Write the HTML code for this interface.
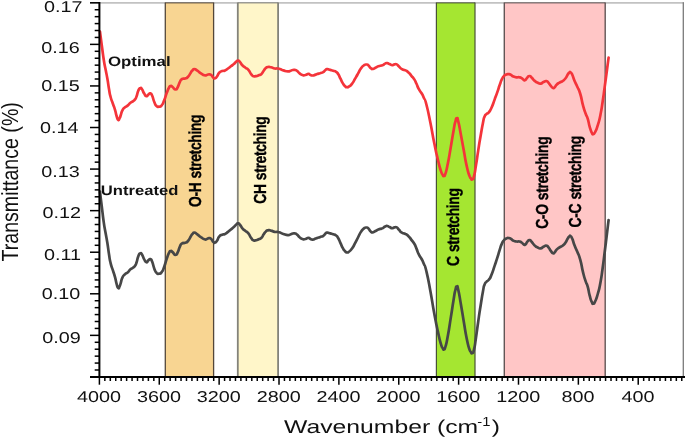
<!DOCTYPE html>
<html><head><meta charset="utf-8"><title>FTIR spectra</title>
<style>html,body{margin:0;padding:0;background:#fff}body{width:685px;height:439px;overflow:hidden}</style></head>
<body>
<svg width="685" height="439" viewBox="0 0 685 439" style="display:block;filter:blur(0.3px);text-rendering:geometricPrecision;font-family:'Liberation Sans',sans-serif">
<rect width="685" height="439" fill="#fff"/>
<line x1="90" y1="2.9" x2="684" y2="2.9" stroke="#c2c2c2" stroke-width="1.6"/>
<line x1="683.3" y1="2.2" x2="683.3" y2="377" stroke="#7a7a7a" stroke-width="1.3"/>
<rect x="165.3" y="3.0" width="48.3" height="373.9" fill="#f8d592"/>
<line x1="165.3" y1="2.4" x2="165.3" y2="376.9" stroke="#54473a" stroke-width="1.3"/>
<line x1="213.6" y1="2.4" x2="213.6" y2="376.9" stroke="#54473a" stroke-width="1.3"/>
<line x1="165.3" y1="2.9" x2="213.6" y2="2.9" stroke="#54473a" stroke-width="1.0"/>
<rect x="237.8" y="3.0" width="40.3" height="373.9" fill="#fff6c9"/>
<line x1="237.8" y1="2.4" x2="237.8" y2="376.9" stroke="#83837a" stroke-width="1.8"/>
<line x1="278.1" y1="2.4" x2="278.1" y2="376.9" stroke="#83837a" stroke-width="1.8"/>
<line x1="237.8" y1="2.9" x2="278.1" y2="2.9" stroke="#83837a" stroke-width="1.0"/>
<rect x="436.4" y="3.0" width="38.6" height="373.9" fill="#a5e631"/>
<line x1="436.4" y1="2.4" x2="436.4" y2="376.9" stroke="#485236" stroke-width="1.2"/>
<line x1="475.0" y1="2.4" x2="475.0" y2="376.9" stroke="#485236" stroke-width="1.2"/>
<line x1="436.4" y1="2.9" x2="475.0" y2="2.9" stroke="#485236" stroke-width="1.0"/>
<rect x="504.3" y="3.0" width="100.9" height="373.9" fill="#ffc6c6"/>
<line x1="504.3" y1="2.4" x2="504.3" y2="376.9" stroke="#625555" stroke-width="1.4"/>
<line x1="605.2" y1="2.4" x2="605.2" y2="376.9" stroke="#625555" stroke-width="1.4"/>
<line x1="504.3" y1="2.9" x2="605.2" y2="2.9" stroke="#625555" stroke-width="1.0"/>
<path d="M100.0 31.6C100.3 34.2 100.2 33.4 101.0 39.5C101.8 45.6 101.5 43.2 102.4 50.0C103.3 56.8 102.8 53.6 103.8 60.0C104.8 66.4 104.3 63.0 105.5 69.1C106.7 75.2 106.1 71.6 107.3 78.2C108.5 84.8 107.9 82.7 109.0 89.0C110.1 95.3 109.3 92.1 110.6 97.0C111.9 101.9 111.4 99.3 112.9 103.7C114.4 108.1 113.9 106.0 115.1 110.1C116.3 114.2 115.6 112.8 116.6 116.0C117.6 119.2 117.2 119.1 118.2 119.8C119.2 120.5 118.7 119.8 119.6 118.2C120.5 116.6 119.9 117.6 120.8 115.0C121.7 112.4 121.1 112.8 122.4 110.3C123.7 107.8 122.9 109.1 124.7 107.5C126.5 105.9 126.1 106.9 127.9 105.4C129.7 103.9 128.5 104.4 130.2 103.0C131.9 101.6 131.3 102.5 132.9 101.3C134.5 100.1 133.8 101.1 135.0 99.4C136.2 97.7 135.5 99.2 136.6 96.3C137.7 93.4 137.1 93.4 138.3 90.7C139.5 88.0 139.0 88.7 140.2 88.2C141.4 87.7 140.7 87.4 142.0 89.2C143.3 91.0 142.7 91.3 144.2 93.6C145.7 95.9 145.0 95.9 146.4 96.2C147.8 96.5 147.0 95.5 148.3 94.6C149.6 93.7 149.1 93.0 150.4 93.4C151.7 93.8 150.9 92.8 152.2 95.8C153.5 98.8 152.9 98.9 154.4 102.3C155.9 105.7 155.1 104.5 156.6 106.0C158.1 107.5 157.1 106.9 158.8 106.7C160.5 106.5 159.9 107.5 161.7 105.3C163.5 103.1 162.6 104.3 164.3 100.1C166.0 95.9 165.2 96.9 166.8 92.8C168.4 88.7 167.7 90.0 169.0 87.7C170.3 85.4 169.5 86.2 170.7 86.0C171.9 85.8 171.0 85.8 172.6 87.0C174.2 88.2 173.9 89.5 175.6 89.5C177.3 89.5 176.4 89.5 177.8 87.0C179.2 84.5 178.5 84.6 179.9 81.9C181.3 79.2 180.4 80.1 182.1 79.0C183.8 77.9 183.1 79.2 185.1 78.5C187.1 77.8 186.1 78.8 188.0 76.8C189.9 74.8 189.5 74.4 190.9 72.4C192.3 70.4 191.0 71.8 192.2 70.7C193.4 69.6 192.7 69.2 194.4 69.2C196.1 69.2 195.1 69.3 197.3 70.7C199.5 72.1 198.5 71.8 200.9 73.3C203.3 74.8 202.6 74.7 204.6 75.3C206.6 75.9 205.3 75.3 206.8 75.0C208.3 74.7 207.5 74.3 209.0 74.3C210.5 74.3 209.7 73.9 211.2 75.0C212.7 76.1 212.1 76.6 213.4 77.7C214.7 78.8 213.9 78.6 215.1 78.2C216.3 77.8 215.6 78.3 217.0 76.5C218.4 74.7 217.5 74.6 219.2 72.8C220.9 71.0 220.2 71.9 222.1 71.1C224.0 70.3 223.0 71.3 225.0 70.4C227.0 69.5 226.0 69.9 228.0 68.5C230.0 67.1 229.0 67.8 230.9 66.3C232.8 64.8 232.1 65.6 233.8 64.1C235.5 62.6 234.6 63.0 236.0 61.9C237.4 60.8 236.6 60.7 237.9 60.7C239.2 60.7 238.3 60.3 239.9 61.9C241.5 63.5 240.7 63.6 242.6 65.5C244.5 67.4 243.6 66.2 245.5 67.7C247.4 69.2 246.5 67.7 248.4 69.9C250.3 72.1 249.6 72.2 251.3 74.3C253.0 76.4 252.0 75.6 253.5 76.2C255.0 76.8 254.0 76.5 255.7 76.2C257.4 75.9 256.7 76.1 258.6 75.3C260.5 74.5 259.8 75.4 261.5 73.9C263.2 72.4 262.2 72.7 263.7 70.7C265.2 68.7 264.4 69.2 265.9 68.0C267.4 66.8 266.4 67.2 268.1 67.0C269.8 66.8 268.8 66.8 271.0 67.3C273.2 67.8 272.5 68.1 274.7 68.5C276.9 68.9 275.7 68.3 277.6 68.5C279.5 68.7 278.6 68.6 280.5 69.2C282.4 69.8 280.9 69.7 283.4 70.4C285.9 71.1 285.4 71.3 287.9 71.4C290.4 71.5 288.8 71.2 290.8 70.7C292.8 70.2 291.8 69.9 293.8 69.9C295.8 69.9 294.8 69.6 296.7 70.7C298.6 71.8 297.7 71.9 299.6 73.3C301.5 74.7 300.6 74.4 302.5 75.0C304.4 75.6 303.4 75.4 305.4 75.0C307.4 74.6 306.7 73.9 308.4 73.9C310.1 73.9 309.1 74.5 310.5 75.0C311.9 75.5 311.0 75.6 312.7 75.5C314.4 75.4 313.7 75.2 315.7 74.6C317.7 74.0 316.7 74.2 318.6 73.6C320.5 73.0 319.8 73.4 321.5 72.8C323.2 72.2 322.2 72.9 323.7 71.8C325.2 70.7 324.6 70.5 325.9 69.6C327.2 68.7 326.1 69.1 327.6 69.2C329.1 69.3 328.4 69.4 330.3 69.9C332.2 70.4 331.3 70.1 333.2 70.7C335.1 71.3 334.4 70.6 336.1 71.8C337.8 73.0 336.8 72.0 338.3 74.3C339.8 76.6 339.0 75.8 340.5 78.7C342.0 81.6 341.2 80.7 342.7 83.1C344.2 85.5 343.5 84.6 344.9 86.0C346.3 87.4 345.6 87.1 347.0 87.2C348.4 87.3 347.5 87.6 349.2 86.4C350.9 85.2 350.2 86.1 352.2 83.5C354.2 80.9 353.2 82.0 355.1 78.7C357.0 75.4 356.1 77.0 358.0 73.6C359.9 70.2 359.0 71.2 360.9 68.5C362.8 65.8 361.9 66.8 363.8 65.5C365.7 64.2 364.9 64.5 366.5 64.5C368.1 64.5 367.1 64.3 368.5 65.5C369.9 66.7 369.3 67.1 370.8 68.2C372.3 69.3 371.3 69.1 372.9 68.9C374.5 68.7 373.7 68.6 375.5 67.7C377.3 66.8 376.4 67.0 378.4 66.3C380.4 65.6 379.9 65.9 381.4 65.5C382.9 65.1 381.7 65.7 382.9 65.1C384.1 64.5 383.6 64.3 385.1 63.6C386.6 62.9 385.8 62.9 387.3 63.1C388.8 63.3 387.8 63.4 389.5 64.1C391.2 64.8 390.7 65.0 392.4 65.1C394.1 65.2 393.1 64.6 394.6 64.4C396.1 64.2 395.3 63.7 396.8 64.4C398.3 65.1 397.3 65.0 399.0 66.6C400.7 68.2 399.7 67.9 401.9 69.2C404.1 70.5 403.3 69.3 405.5 70.4C407.7 71.5 406.5 70.6 408.5 72.4C410.5 74.2 409.5 73.5 411.4 75.8C413.3 78.1 412.6 76.7 414.3 79.4C416.0 82.1 415.0 80.6 416.5 83.8C418.0 87.0 417.0 85.7 418.7 88.9C420.4 92.1 419.9 90.4 421.6 93.3C423.3 96.2 422.2 94.0 423.8 97.7C425.4 101.4 424.2 96.0 426.4 104.5C428.6 113.0 427.9 110.3 430.5 123.2C433.1 136.1 431.8 131.1 434.3 143.3C436.8 155.5 435.7 150.6 437.9 159.7C440.1 168.8 439.2 165.6 440.8 170.6C442.4 175.6 441.7 173.1 442.7 174.8C443.7 176.5 443.0 176.2 443.9 175.7C444.8 175.2 444.2 177.4 445.5 173.3C446.8 169.2 446.1 172.1 447.9 163.3C449.7 154.5 448.9 157.8 450.8 146.9C452.7 136.0 452.1 138.9 453.6 130.5C455.1 122.1 454.3 125.6 455.4 121.6C456.5 117.6 455.8 118.5 456.8 118.5C457.8 118.5 457.0 116.4 458.3 121.6C459.6 126.8 459.0 124.5 460.8 134.2C462.6 143.9 461.9 140.3 463.8 150.6C465.7 160.9 464.7 156.9 466.5 165.1C468.3 173.3 467.7 170.8 469.2 175.2C470.7 179.6 469.9 177.1 470.9 178.4C471.9 179.7 471.2 180.0 472.2 179.2C473.2 178.4 472.7 180.8 474.0 176.1C475.3 171.4 474.6 173.6 476.0 165.1C477.4 156.6 476.7 160.3 478.2 150.6C479.7 140.9 479.0 145.1 480.6 136.0C482.2 126.9 481.6 129.6 482.9 123.2C484.2 116.8 483.3 119.8 484.5 116.8C485.7 113.8 485.0 115.6 486.4 114.1C487.8 112.6 487.1 114.4 488.8 112.3C490.5 110.2 489.6 111.9 491.5 107.7C493.4 103.5 492.6 105.0 494.6 99.6C496.6 94.2 495.8 96.5 497.5 91.6C499.2 86.7 498.2 89.1 499.7 85.0C501.2 80.9 500.4 82.2 501.9 79.2C503.4 76.2 502.6 77.6 504.1 76.0C505.6 74.4 504.8 75.1 506.3 74.5C507.8 73.9 507.0 74.0 508.5 74.1C510.0 74.2 509.0 74.0 510.7 74.8C512.4 75.6 511.7 75.8 513.6 76.6C515.5 77.4 514.6 77.1 516.5 77.3C518.4 77.5 517.7 77.0 519.4 77.3C521.1 77.6 520.1 77.3 521.6 78.2C523.1 79.1 522.5 79.3 523.8 79.9C525.1 80.5 524.3 80.7 525.5 79.9C526.7 79.1 526.0 78.7 527.4 77.4C528.8 76.1 528.1 75.9 529.6 76.0C531.1 76.1 530.1 76.1 531.8 77.7C533.5 79.3 532.7 79.2 534.7 80.9C536.7 82.6 535.7 81.9 537.7 82.8C539.7 83.7 538.7 83.8 540.6 83.6C542.5 83.4 541.6 82.9 543.5 82.1C545.4 81.3 544.7 80.9 546.4 81.1C548.1 81.3 547.1 81.2 548.6 82.8C550.1 84.4 549.3 84.1 550.8 85.8C552.3 87.5 551.7 87.5 553.0 88.0C554.3 88.5 553.5 88.3 554.7 87.2C555.9 86.1 555.0 86.2 556.6 84.7C558.2 83.2 557.6 83.8 559.6 82.6C561.6 81.4 560.6 82.5 562.5 81.1C564.4 79.7 563.7 80.6 565.4 78.5C567.1 76.4 566.3 76.8 567.6 74.8C568.9 72.8 568.3 73.4 569.3 72.6C570.3 71.8 569.6 71.7 570.6 72.4C571.6 73.1 571.0 71.9 572.3 74.8C573.6 77.7 572.9 77.0 574.6 81.0C576.3 85.0 575.4 82.4 577.3 86.7C579.2 91.0 578.4 87.8 580.3 94.0C582.2 100.2 581.2 98.8 583.0 105.3C584.8 111.8 584.0 109.1 585.6 113.5C587.2 117.9 586.3 114.2 587.7 118.6C589.1 123.0 588.3 122.1 589.7 126.8C591.1 131.5 590.6 130.2 591.8 132.6C593.0 135.0 592.1 134.2 593.2 134.0C594.3 133.8 593.6 135.1 595.2 132.0C596.8 128.9 596.1 130.6 597.9 124.8C599.7 119.0 598.9 122.4 600.5 114.5C602.1 106.6 601.3 110.4 602.7 101.2C604.1 92.0 603.3 97.1 604.7 86.9C606.1 76.7 605.6 80.3 606.9 70.5C608.2 60.7 608.0 61.9 608.6 57.6" fill="none" stroke="#f4343a" stroke-width="2.7" stroke-linejoin="round" stroke-linecap="round"/>
<path d="M100.0 191.6C100.3 194.4 100.2 193.5 101.0 200.2C101.8 206.9 101.5 204.2 102.4 211.7C103.3 219.1 102.8 215.6 103.8 222.6C104.8 229.6 104.3 225.9 105.5 232.6C106.7 239.2 106.1 235.3 107.3 242.5C108.5 249.8 107.9 247.5 109.0 254.3C110.1 261.2 109.3 257.7 110.6 263.1C111.9 268.4 111.4 265.6 112.9 270.4C114.4 275.2 113.9 272.9 115.1 277.4C116.3 281.9 115.6 280.3 116.6 283.8C117.6 287.4 117.2 287.2 118.2 288.0C119.2 288.8 118.7 288.0 119.6 286.3C120.5 284.5 119.9 285.6 120.8 282.8C121.7 279.9 121.1 280.3 122.4 277.6C123.7 274.9 122.9 276.3 124.7 274.6C126.5 272.8 126.1 273.9 127.9 272.3C129.7 270.6 128.5 271.1 130.2 269.6C131.9 268.1 131.3 269.1 132.9 267.8C134.5 266.5 133.8 267.5 135.0 265.7C136.2 263.9 135.5 265.5 136.6 262.3C137.7 259.1 137.1 259.1 138.3 256.2C139.5 253.2 139.0 254.0 140.2 253.4C141.4 252.9 140.7 252.6 142.0 254.5C143.3 256.5 142.7 256.8 144.2 259.4C145.7 261.9 145.0 261.8 146.4 262.2C147.8 262.6 147.0 261.5 148.3 260.4C149.6 259.4 149.1 258.7 150.4 259.1C151.7 259.6 150.9 258.5 152.2 261.8C153.5 265.0 152.9 265.1 154.4 268.9C155.9 272.6 155.1 271.3 156.6 272.9C158.1 274.5 157.1 273.9 158.8 273.7C160.5 273.4 159.9 274.6 161.7 272.1C163.5 269.7 162.6 271.0 164.3 266.5C166.0 261.9 165.2 263.0 166.8 258.5C168.4 254.0 167.7 255.4 169.0 252.9C170.3 250.4 169.5 251.3 170.7 251.0C171.9 250.8 171.0 250.9 172.6 252.1C174.2 253.4 173.9 254.9 175.6 254.9C177.3 254.9 176.4 254.9 177.8 252.1C179.2 249.4 178.5 249.5 179.9 246.6C181.3 243.6 180.4 244.6 182.1 243.4C183.8 242.1 183.1 243.6 185.1 242.8C187.1 242.0 186.1 243.2 188.0 241.0C189.9 238.8 189.5 238.4 190.9 236.2C192.3 233.9 191.0 235.5 192.2 234.3C193.4 233.1 192.7 232.7 194.4 232.7C196.1 232.7 195.1 232.8 197.3 234.3C199.5 235.8 198.5 235.5 200.9 237.2C203.3 238.8 202.6 238.7 204.6 239.3C206.6 240.0 205.3 239.4 206.8 239.0C208.3 238.6 207.5 238.2 209.0 238.2C210.5 238.2 209.7 237.8 211.2 239.0C212.7 240.3 212.1 240.8 213.4 242.0C214.7 243.1 213.9 242.9 215.1 242.5C216.3 242.1 215.6 242.6 217.0 240.7C218.4 238.7 217.5 238.6 219.2 236.6C220.9 234.6 220.2 235.6 222.1 234.7C224.0 233.9 223.0 234.9 225.0 234.0C227.0 233.0 226.0 233.4 228.0 231.9C230.0 230.4 229.0 231.1 230.9 229.5C232.8 227.9 232.1 228.7 233.8 227.1C235.5 225.5 234.6 225.9 236.0 224.7C237.4 223.4 236.6 223.4 237.9 223.4C239.2 223.4 238.3 222.9 239.9 224.7C241.5 226.4 240.7 226.5 242.6 228.6C244.5 230.7 243.6 229.4 245.5 231.0C247.4 232.6 246.5 231.0 248.4 233.4C250.3 235.8 249.6 236.0 251.3 238.2C253.0 240.5 252.0 239.6 253.5 240.3C255.0 241.0 254.0 240.7 255.7 240.3C257.4 240.0 256.7 240.2 258.6 239.3C260.5 238.5 259.8 239.5 261.5 237.8C263.2 236.1 262.2 236.5 263.7 234.3C265.2 232.2 264.4 232.7 265.9 231.4C267.4 230.0 266.4 230.5 268.1 230.3C269.8 230.0 268.8 230.0 271.0 230.6C273.2 231.1 272.5 231.5 274.7 231.9C276.9 232.3 275.7 231.6 277.6 231.9C279.5 232.2 278.6 232.0 280.5 232.7C282.4 233.4 280.9 233.2 283.4 234.0C285.9 234.8 285.4 235.0 287.9 235.1C290.4 235.2 288.8 234.9 290.8 234.3C292.8 233.8 291.8 233.4 293.8 233.4C295.8 233.4 294.8 233.1 296.7 234.3C298.6 235.5 297.7 235.6 299.6 237.2C301.5 238.7 300.6 238.4 302.5 239.0C304.4 239.6 303.4 239.4 305.4 239.0C307.4 238.6 306.7 237.8 308.4 237.8C310.1 237.8 309.1 238.4 310.5 239.0C311.9 239.6 311.0 239.7 312.7 239.6C314.4 239.4 313.7 239.3 315.7 238.6C317.7 237.9 316.7 238.1 318.6 237.5C320.5 236.8 319.8 237.3 321.5 236.6C323.2 236.0 322.2 236.7 323.7 235.5C325.2 234.3 324.6 234.1 325.9 233.1C327.2 232.2 326.1 232.6 327.6 232.7C329.1 232.8 328.4 232.9 330.3 233.4C332.2 234.0 331.3 233.6 333.2 234.3C335.1 235.0 334.4 234.2 336.1 235.5C337.8 236.8 336.8 235.7 338.3 238.2C339.8 240.8 339.0 239.9 340.5 243.1C342.0 246.3 341.2 245.2 342.7 247.9C344.2 250.5 343.5 249.5 344.9 251.0C346.3 252.5 345.6 252.2 347.0 252.4C348.4 252.5 347.5 252.8 349.2 251.5C350.9 250.1 350.2 251.1 352.2 248.3C354.2 245.5 353.2 246.7 355.1 243.1C357.0 239.4 356.1 241.2 358.0 237.5C359.9 233.8 359.0 234.9 360.9 231.9C362.8 229.0 361.9 230.1 363.8 228.6C365.7 227.2 364.9 227.5 366.5 227.5C368.1 227.5 367.1 227.3 368.5 228.6C369.9 230.0 369.3 230.3 370.8 231.6C372.3 232.8 371.3 232.5 372.9 232.3C374.5 232.2 373.7 232.0 375.5 231.0C377.3 230.1 376.4 230.3 378.4 229.5C380.4 228.7 379.9 229.1 381.4 228.6C382.9 228.2 381.7 228.9 382.9 228.2C384.1 227.5 383.6 227.3 385.1 226.5C386.6 225.8 385.8 225.8 387.3 226.0C388.8 226.2 387.8 226.4 389.5 227.1C391.2 227.8 390.7 228.1 392.4 228.2C394.1 228.3 393.1 227.7 394.6 227.4C396.1 227.2 395.3 226.6 396.8 227.4C398.3 228.2 397.3 228.1 399.0 229.8C400.7 231.6 399.7 231.3 401.9 232.7C404.1 234.1 403.3 232.8 405.5 234.0C407.7 235.1 406.5 234.2 408.5 236.2C410.5 238.1 409.5 237.3 411.4 239.9C413.3 242.4 412.6 240.9 414.3 243.8C416.0 246.7 415.0 245.2 416.5 248.6C418.0 252.1 417.0 250.7 418.7 254.2C420.4 257.7 419.9 255.8 421.6 259.0C423.3 262.2 422.2 259.8 423.8 263.8C425.4 267.9 424.2 262.0 426.4 271.3C428.6 280.6 427.9 277.6 430.5 291.7C433.1 305.9 431.8 300.4 434.3 313.7C436.8 327.0 435.7 321.7 437.9 331.6C440.1 341.6 439.2 338.0 440.8 343.6C442.4 349.1 441.7 346.3 442.7 348.1C443.7 350.0 443.0 349.7 443.9 349.1C444.8 348.6 444.2 351.0 445.5 346.5C446.8 342.0 446.1 345.2 447.9 335.6C449.7 325.9 448.9 329.6 450.8 317.6C452.7 305.7 452.1 308.9 453.6 299.7C455.1 290.5 454.3 294.3 455.4 290.0C456.5 285.6 455.8 286.6 456.8 286.6C457.8 286.6 457.0 284.2 458.3 290.0C459.6 295.7 459.0 293.2 460.8 303.7C462.6 314.3 461.9 310.4 463.8 321.7C465.7 332.9 464.7 328.6 466.5 337.5C468.3 346.5 467.7 343.7 469.2 348.6C470.7 353.4 469.9 350.6 470.9 352.1C471.9 353.5 471.2 353.8 472.2 353.0C473.2 352.1 472.7 354.7 474.0 349.6C475.3 344.4 474.6 346.8 476.0 337.5C477.4 328.2 476.7 332.3 478.2 321.7C479.7 311.1 479.0 315.7 480.6 305.7C482.2 295.7 481.6 298.7 482.9 291.7C484.2 284.7 483.3 288.0 484.5 284.7C485.7 281.4 485.0 283.4 486.4 281.8C487.8 280.1 487.1 282.1 488.8 279.8C490.5 277.5 489.6 279.4 491.5 274.8C493.4 270.1 492.6 271.8 494.6 265.9C496.6 260.0 495.8 262.5 497.5 257.2C499.2 251.8 498.2 254.5 499.7 249.9C501.2 245.4 500.4 246.9 501.9 243.6C503.4 240.3 502.6 241.8 504.1 240.1C505.6 238.4 504.8 239.2 506.3 238.5C507.8 237.8 507.0 237.9 508.5 238.0C510.0 238.1 509.0 237.9 510.7 238.8C512.4 239.7 511.7 239.9 513.6 240.8C515.5 241.7 514.6 241.3 516.5 241.5C518.4 241.8 517.7 241.2 519.4 241.5C521.1 241.9 520.1 241.6 521.6 242.5C523.1 243.5 522.5 243.8 523.8 244.4C525.1 245.0 524.3 245.3 525.5 244.4C526.7 243.5 526.0 243.1 527.4 241.6C528.8 240.2 528.1 240.0 529.6 240.1C531.1 240.2 530.1 240.2 531.8 242.0C533.5 243.8 532.7 243.6 534.7 245.5C536.7 247.3 535.7 246.6 537.7 247.5C539.7 248.5 538.7 248.7 540.6 248.4C542.5 248.2 541.6 247.7 543.5 246.8C545.4 245.9 544.7 245.4 546.4 245.7C548.1 245.9 547.1 245.8 548.6 247.5C550.1 249.3 549.3 248.9 550.8 250.8C552.3 252.7 551.7 252.7 553.0 253.2C554.3 253.7 553.5 253.6 554.7 252.4C555.9 251.2 555.0 251.3 556.6 249.6C558.2 247.9 557.6 248.6 559.6 247.3C561.6 246.0 560.6 247.2 562.5 245.7C564.4 244.2 563.7 245.1 565.4 242.8C567.1 240.5 566.3 240.9 567.6 238.8C568.9 236.6 568.3 237.3 569.3 236.4C570.3 235.5 569.6 235.4 570.6 236.2C571.6 237.0 571.0 235.7 572.3 238.8C573.6 241.9 572.9 241.2 574.6 245.6C576.3 249.9 575.4 247.1 577.3 251.8C579.2 256.5 578.4 253.0 580.3 259.8C582.2 266.6 581.2 265.0 583.0 272.1C584.8 279.3 584.0 276.3 585.6 281.1C587.2 286.0 586.3 281.8 587.7 286.7C589.1 291.5 588.3 290.6 589.7 295.7C591.1 300.8 590.6 299.4 591.8 302.0C593.0 304.6 592.1 303.7 593.2 303.5C594.3 303.3 593.6 304.7 595.2 301.3C596.8 298.0 596.1 299.8 597.9 293.5C599.7 287.1 598.9 290.8 600.5 282.2C602.1 273.6 601.3 277.7 602.7 267.7C604.1 257.6 603.3 263.2 604.7 252.0C606.1 240.8 605.6 244.8 606.9 234.1C608.2 223.4 608.0 224.7 608.6 220.0" fill="none" stroke="#474747" stroke-width="2.7" stroke-linejoin="round" stroke-linecap="round"/>
<g stroke="#000" stroke-width="1.5">
<line x1="90" y1="2.80" x2="99.4" y2="2.80"/>
<line x1="94.7" y1="9.73" x2="99.4" y2="9.73"/>
<line x1="94.7" y1="16.66" x2="99.4" y2="16.66"/>
<line x1="94.7" y1="23.59" x2="99.4" y2="23.59"/>
<line x1="94.7" y1="30.51" x2="99.4" y2="30.51"/>
<line x1="94.7" y1="37.44" x2="99.4" y2="37.44"/>
<line x1="90" y1="44.37" x2="99.4" y2="44.37"/>
<line x1="94.7" y1="51.30" x2="99.4" y2="51.30"/>
<line x1="94.7" y1="58.23" x2="99.4" y2="58.23"/>
<line x1="94.7" y1="65.16" x2="99.4" y2="65.16"/>
<line x1="94.7" y1="72.08" x2="99.4" y2="72.08"/>
<line x1="94.7" y1="79.01" x2="99.4" y2="79.01"/>
<line x1="90" y1="85.94" x2="99.4" y2="85.94"/>
<line x1="94.7" y1="92.87" x2="99.4" y2="92.87"/>
<line x1="94.7" y1="99.80" x2="99.4" y2="99.80"/>
<line x1="94.7" y1="106.72" x2="99.4" y2="106.72"/>
<line x1="94.7" y1="113.65" x2="99.4" y2="113.65"/>
<line x1="94.7" y1="120.58" x2="99.4" y2="120.58"/>
<line x1="90" y1="127.51" x2="99.4" y2="127.51"/>
<line x1="94.7" y1="134.44" x2="99.4" y2="134.44"/>
<line x1="94.7" y1="141.37" x2="99.4" y2="141.37"/>
<line x1="94.7" y1="148.30" x2="99.4" y2="148.30"/>
<line x1="94.7" y1="155.22" x2="99.4" y2="155.22"/>
<line x1="94.7" y1="162.15" x2="99.4" y2="162.15"/>
<line x1="90" y1="169.08" x2="99.4" y2="169.08"/>
<line x1="94.7" y1="176.01" x2="99.4" y2="176.01"/>
<line x1="94.7" y1="182.94" x2="99.4" y2="182.94"/>
<line x1="94.7" y1="189.87" x2="99.4" y2="189.87"/>
<line x1="94.7" y1="196.79" x2="99.4" y2="196.79"/>
<line x1="94.7" y1="203.72" x2="99.4" y2="203.72"/>
<line x1="90" y1="210.65" x2="99.4" y2="210.65"/>
<line x1="94.7" y1="217.58" x2="99.4" y2="217.58"/>
<line x1="94.7" y1="224.51" x2="99.4" y2="224.51"/>
<line x1="94.7" y1="231.44" x2="99.4" y2="231.44"/>
<line x1="94.7" y1="238.36" x2="99.4" y2="238.36"/>
<line x1="94.7" y1="245.29" x2="99.4" y2="245.29"/>
<line x1="90" y1="252.22" x2="99.4" y2="252.22"/>
<line x1="94.7" y1="259.15" x2="99.4" y2="259.15"/>
<line x1="94.7" y1="266.08" x2="99.4" y2="266.08"/>
<line x1="94.7" y1="273.01" x2="99.4" y2="273.01"/>
<line x1="94.7" y1="279.93" x2="99.4" y2="279.93"/>
<line x1="94.7" y1="286.86" x2="99.4" y2="286.86"/>
<line x1="90" y1="293.79" x2="99.4" y2="293.79"/>
<line x1="94.7" y1="300.72" x2="99.4" y2="300.72"/>
<line x1="94.7" y1="307.65" x2="99.4" y2="307.65"/>
<line x1="94.7" y1="314.58" x2="99.4" y2="314.58"/>
<line x1="94.7" y1="321.50" x2="99.4" y2="321.50"/>
<line x1="94.7" y1="328.43" x2="99.4" y2="328.43"/>
<line x1="90" y1="335.36" x2="99.4" y2="335.36"/>
<line x1="94.7" y1="342.29" x2="99.4" y2="342.29"/>
<line x1="94.7" y1="349.22" x2="99.4" y2="349.22"/>
<line x1="94.7" y1="356.15" x2="99.4" y2="356.15"/>
<line x1="94.7" y1="363.07" x2="99.4" y2="363.07"/>
<line x1="94.7" y1="370.00" x2="99.4" y2="370.00"/>
<line x1="90" y1="376.93" x2="99.4" y2="376.93"/>
<line x1="99.40" y1="376.9" x2="99.40" y2="384.7"/>
<line x1="104.84" y1="376.9" x2="104.84" y2="381.0"/>
<line x1="110.29" y1="376.9" x2="110.29" y2="381.0"/>
<line x1="115.73" y1="376.9" x2="115.73" y2="381.0"/>
<line x1="121.17" y1="376.9" x2="121.17" y2="381.0"/>
<line x1="126.61" y1="376.9" x2="126.61" y2="381.0"/>
<line x1="132.06" y1="376.9" x2="132.06" y2="381.0"/>
<line x1="137.50" y1="376.9" x2="137.50" y2="381.0"/>
<line x1="142.94" y1="376.9" x2="142.94" y2="381.0"/>
<line x1="148.38" y1="376.9" x2="148.38" y2="381.0"/>
<line x1="153.83" y1="376.9" x2="153.83" y2="381.0"/>
<line x1="159.27" y1="376.9" x2="159.27" y2="384.7"/>
<line x1="164.71" y1="376.9" x2="164.71" y2="381.0"/>
<line x1="170.16" y1="376.9" x2="170.16" y2="381.0"/>
<line x1="175.60" y1="376.9" x2="175.60" y2="381.0"/>
<line x1="181.04" y1="376.9" x2="181.04" y2="381.0"/>
<line x1="186.48" y1="376.9" x2="186.48" y2="381.0"/>
<line x1="191.93" y1="376.9" x2="191.93" y2="381.0"/>
<line x1="197.37" y1="376.9" x2="197.37" y2="381.0"/>
<line x1="202.81" y1="376.9" x2="202.81" y2="381.0"/>
<line x1="208.25" y1="376.9" x2="208.25" y2="381.0"/>
<line x1="213.70" y1="376.9" x2="213.70" y2="381.0"/>
<line x1="219.14" y1="376.9" x2="219.14" y2="384.7"/>
<line x1="224.58" y1="376.9" x2="224.58" y2="381.0"/>
<line x1="230.03" y1="376.9" x2="230.03" y2="381.0"/>
<line x1="235.47" y1="376.9" x2="235.47" y2="381.0"/>
<line x1="240.91" y1="376.9" x2="240.91" y2="381.0"/>
<line x1="246.35" y1="376.9" x2="246.35" y2="381.0"/>
<line x1="251.80" y1="376.9" x2="251.80" y2="381.0"/>
<line x1="257.24" y1="376.9" x2="257.24" y2="381.0"/>
<line x1="262.68" y1="376.9" x2="262.68" y2="381.0"/>
<line x1="268.12" y1="376.9" x2="268.12" y2="381.0"/>
<line x1="273.57" y1="376.9" x2="273.57" y2="381.0"/>
<line x1="279.01" y1="376.9" x2="279.01" y2="384.7"/>
<line x1="284.45" y1="376.9" x2="284.45" y2="381.0"/>
<line x1="289.90" y1="376.9" x2="289.90" y2="381.0"/>
<line x1="295.34" y1="376.9" x2="295.34" y2="381.0"/>
<line x1="300.78" y1="376.9" x2="300.78" y2="381.0"/>
<line x1="306.22" y1="376.9" x2="306.22" y2="381.0"/>
<line x1="311.67" y1="376.9" x2="311.67" y2="381.0"/>
<line x1="317.11" y1="376.9" x2="317.11" y2="381.0"/>
<line x1="322.55" y1="376.9" x2="322.55" y2="381.0"/>
<line x1="327.99" y1="376.9" x2="327.99" y2="381.0"/>
<line x1="333.44" y1="376.9" x2="333.44" y2="381.0"/>
<line x1="338.88" y1="376.9" x2="338.88" y2="384.7"/>
<line x1="344.32" y1="376.9" x2="344.32" y2="381.0"/>
<line x1="349.77" y1="376.9" x2="349.77" y2="381.0"/>
<line x1="355.21" y1="376.9" x2="355.21" y2="381.0"/>
<line x1="360.65" y1="376.9" x2="360.65" y2="381.0"/>
<line x1="366.09" y1="376.9" x2="366.09" y2="381.0"/>
<line x1="371.54" y1="376.9" x2="371.54" y2="381.0"/>
<line x1="376.98" y1="376.9" x2="376.98" y2="381.0"/>
<line x1="382.42" y1="376.9" x2="382.42" y2="381.0"/>
<line x1="387.86" y1="376.9" x2="387.86" y2="381.0"/>
<line x1="393.31" y1="376.9" x2="393.31" y2="381.0"/>
<line x1="398.75" y1="376.9" x2="398.75" y2="384.7"/>
<line x1="404.19" y1="376.9" x2="404.19" y2="381.0"/>
<line x1="409.64" y1="376.9" x2="409.64" y2="381.0"/>
<line x1="415.08" y1="376.9" x2="415.08" y2="381.0"/>
<line x1="420.52" y1="376.9" x2="420.52" y2="381.0"/>
<line x1="425.96" y1="376.9" x2="425.96" y2="381.0"/>
<line x1="431.41" y1="376.9" x2="431.41" y2="381.0"/>
<line x1="436.85" y1="376.9" x2="436.85" y2="381.0"/>
<line x1="442.29" y1="376.9" x2="442.29" y2="381.0"/>
<line x1="447.73" y1="376.9" x2="447.73" y2="381.0"/>
<line x1="453.18" y1="376.9" x2="453.18" y2="381.0"/>
<line x1="458.62" y1="376.9" x2="458.62" y2="384.7"/>
<line x1="464.06" y1="376.9" x2="464.06" y2="381.0"/>
<line x1="469.51" y1="376.9" x2="469.51" y2="381.0"/>
<line x1="474.95" y1="376.9" x2="474.95" y2="381.0"/>
<line x1="480.39" y1="376.9" x2="480.39" y2="381.0"/>
<line x1="485.83" y1="376.9" x2="485.83" y2="381.0"/>
<line x1="491.28" y1="376.9" x2="491.28" y2="381.0"/>
<line x1="496.72" y1="376.9" x2="496.72" y2="381.0"/>
<line x1="502.16" y1="376.9" x2="502.16" y2="381.0"/>
<line x1="507.60" y1="376.9" x2="507.60" y2="381.0"/>
<line x1="513.05" y1="376.9" x2="513.05" y2="381.0"/>
<line x1="518.49" y1="376.9" x2="518.49" y2="384.7"/>
<line x1="523.93" y1="376.9" x2="523.93" y2="381.0"/>
<line x1="529.38" y1="376.9" x2="529.38" y2="381.0"/>
<line x1="534.82" y1="376.9" x2="534.82" y2="381.0"/>
<line x1="540.26" y1="376.9" x2="540.26" y2="381.0"/>
<line x1="545.70" y1="376.9" x2="545.70" y2="381.0"/>
<line x1="551.15" y1="376.9" x2="551.15" y2="381.0"/>
<line x1="556.59" y1="376.9" x2="556.59" y2="381.0"/>
<line x1="562.03" y1="376.9" x2="562.03" y2="381.0"/>
<line x1="567.47" y1="376.9" x2="567.47" y2="381.0"/>
<line x1="572.92" y1="376.9" x2="572.92" y2="381.0"/>
<line x1="578.36" y1="376.9" x2="578.36" y2="384.7"/>
<line x1="583.80" y1="376.9" x2="583.80" y2="381.0"/>
<line x1="589.25" y1="376.9" x2="589.25" y2="381.0"/>
<line x1="594.69" y1="376.9" x2="594.69" y2="381.0"/>
<line x1="600.13" y1="376.9" x2="600.13" y2="381.0"/>
<line x1="605.57" y1="376.9" x2="605.57" y2="381.0"/>
<line x1="611.02" y1="376.9" x2="611.02" y2="381.0"/>
<line x1="616.46" y1="376.9" x2="616.46" y2="381.0"/>
<line x1="621.90" y1="376.9" x2="621.90" y2="381.0"/>
<line x1="627.34" y1="376.9" x2="627.34" y2="381.0"/>
<line x1="632.79" y1="376.9" x2="632.79" y2="381.0"/>
<line x1="638.23" y1="376.9" x2="638.23" y2="384.7"/>
<line x1="643.67" y1="376.9" x2="643.67" y2="381.0"/>
<line x1="649.12" y1="376.9" x2="649.12" y2="381.0"/>
<line x1="654.56" y1="376.9" x2="654.56" y2="381.0"/>
<line x1="660.00" y1="376.9" x2="660.00" y2="381.0"/>
<line x1="665.44" y1="376.9" x2="665.44" y2="381.0"/>
<line x1="670.89" y1="376.9" x2="670.89" y2="381.0"/>
<line x1="676.33" y1="376.9" x2="676.33" y2="381.0"/>
<line x1="681.77" y1="376.9" x2="681.77" y2="381.0"/>
</g>
<line x1="99.4" y1="2" x2="99.4" y2="377.9" stroke="#000" stroke-width="2"/>
<line x1="90" y1="376.9" x2="685" y2="376.9" stroke="#000" stroke-width="2"/>
<text transform="translate(99.1 401.5) scale(1.262 1)" font-size="15.7" text-anchor="middle" font-weight="normal" fill="#111">4000</text>
<text transform="translate(159.0 401.5) scale(1.262 1)" font-size="15.7" text-anchor="middle" font-weight="normal" fill="#111">3600</text>
<text transform="translate(218.8 401.5) scale(1.262 1)" font-size="15.7" text-anchor="middle" font-weight="normal" fill="#111">3200</text>
<text transform="translate(278.7 401.5) scale(1.262 1)" font-size="15.7" text-anchor="middle" font-weight="normal" fill="#111">2800</text>
<text transform="translate(338.6 401.5) scale(1.262 1)" font-size="15.7" text-anchor="middle" font-weight="normal" fill="#111">2400</text>
<text transform="translate(398.4 401.5) scale(1.262 1)" font-size="15.7" text-anchor="middle" font-weight="normal" fill="#111">2000</text>
<text transform="translate(458.3 401.5) scale(1.262 1)" font-size="15.7" text-anchor="middle" font-weight="normal" fill="#111">1600</text>
<text transform="translate(518.2 401.5) scale(1.262 1)" font-size="15.7" text-anchor="middle" font-weight="normal" fill="#111">1200</text>
<text transform="translate(578.1 401.5) scale(1.262 1)" font-size="15.7" text-anchor="middle" font-weight="normal" fill="#111">800</text>
<text transform="translate(637.9 401.5) scale(1.262 1)" font-size="15.7" text-anchor="middle" font-weight="normal" fill="#111">400</text>
<text transform="translate(82.5 11.6) scale(1.262 1)" font-size="15.7" text-anchor="end" font-weight="normal" fill="#111">0.17</text>
<text transform="translate(79.7 52.7) scale(1.262 1)" font-size="15.7" text-anchor="end" font-weight="normal" fill="#111">0.16</text>
<text transform="translate(79.7 91.3) scale(1.262 1)" font-size="15.7" text-anchor="end" font-weight="normal" fill="#111">0.15</text>
<text transform="translate(78.5 133.4) scale(1.262 1)" font-size="15.7" text-anchor="end" font-weight="normal" fill="#111">0.14</text>
<text transform="translate(79.7 176.6) scale(1.262 1)" font-size="15.7" text-anchor="end" font-weight="normal" fill="#111">0.13</text>
<text transform="translate(81.0 218.0) scale(1.262 1)" font-size="15.7" text-anchor="end" font-weight="normal" fill="#111">0.12</text>
<text transform="translate(81.0 260.2) scale(1.262 1)" font-size="15.7" text-anchor="end" font-weight="normal" fill="#111">0.11</text>
<text transform="translate(80.3 299.1) scale(1.262 1)" font-size="15.7" text-anchor="end" font-weight="normal" fill="#111">0.10</text>
<text transform="translate(80.8 343.1) scale(1.262 1)" font-size="15.7" text-anchor="end" font-weight="normal" fill="#111">0.09</text>
<text transform="translate(284 433.4) scale(1.33 1)" font-size="18.6" fill="#111">Wavenumber (cm</text>
<text transform="translate(477.3 426.3) scale(1.12 1)" font-size="13.2" fill="#111">-1</text>
<text transform="translate(491.7 433.4) scale(1.33 1)" font-size="18.6" fill="#111">)</text>
<text transform="translate(18.4 261.5) rotate(-90) scale(1 1.19)" font-size="19.6" fill="#111">Transmittance (%)</text>
<text transform="translate(107.9 65.9) scale(1.230 1)" font-size="13.7" text-anchor="start" font-weight="bold" fill="#111">Optimal</text>
<text transform="translate(100.8 194.8) scale(1.215 1)" font-size="13.7" text-anchor="start" font-weight="bold" fill="#111">Untreated</text>
<text transform="translate(200.7 207.0) rotate(-90) scale(1 1.25)" font-size="13.9" letter-spacing="-0.36" word-spacing="0.7" font-weight="bold" fill="#000" stroke="#000" stroke-width="0.28">O-H stretching</text>
<text transform="translate(266.2 203.7) rotate(-90) scale(1 1.25)" font-size="13.9" letter-spacing="-0.36" word-spacing="0.7" font-weight="bold" fill="#000" stroke="#000" stroke-width="0.28">CH stretching</text>
<text transform="translate(459.3 265.9) rotate(-90) scale(1 1.25)" font-size="13.9" letter-spacing="-0.36" word-spacing="0.7" font-weight="bold" fill="#000" stroke="#000" stroke-width="0.28">C stretching</text>
<text transform="translate(548.4 228.8) rotate(-90) scale(1 1.25)" font-size="13.9" letter-spacing="-0.36" word-spacing="0.7" font-weight="bold" fill="#000" stroke="#000" stroke-width="0.28">C-O stretching</text>
<text transform="translate(581.0 227.4) rotate(-90) scale(1 1.25)" font-size="13.9" letter-spacing="-0.36" word-spacing="0.7" font-weight="bold" fill="#000" stroke="#000" stroke-width="0.28">C-C stretching</text>
</svg>
</body></html>
